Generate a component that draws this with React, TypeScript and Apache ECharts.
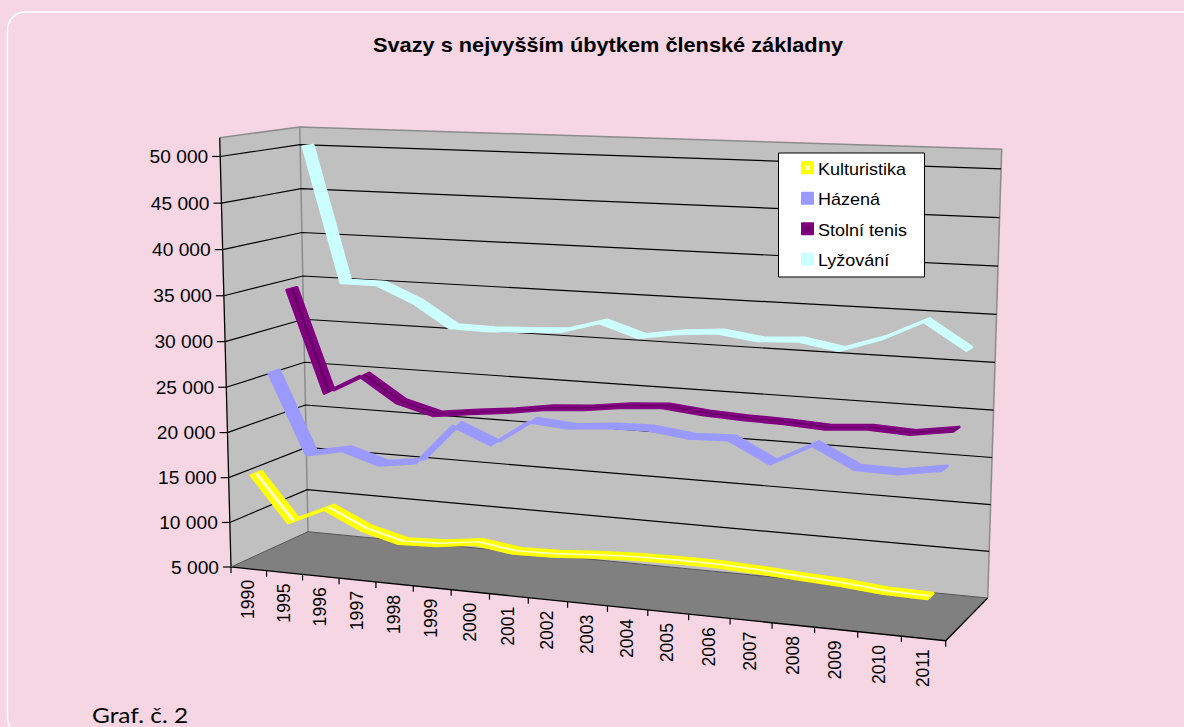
import React, { useEffect, useRef } from "react";
import * as echarts from "echarts";

const years = ["1990","1995","1996","1997","1998","1999","2000","2001","2002","2003","2004","2005","2006","2007","2008","2009","2010","2011"];
const kulturistika = [15200,10300,12150,10250,9180,9340,9890,9310,9400,9700,9900,9950,9950,9750,9500,9250,8850,8750];
const hazena = [25800,16980,17780,16500,17090,21480,19740,22540,22200,22560,22650,22120,22240,20060,22330,20200,20100,20820];
const stolniTenis = [34480,23110,25320,22650,21530,22050,22500,23140,23430,23980,24260,23810,23600,23480,23240,23550,23330,24010];
const lyzovani = [50080,34980,34970,33210,30640,30550,30730,30970,32190,30850,31520,31850,31280,31510,30780,32230,34330,31620];
const yTicks = [5000,10000,15000,20000,25000,30000,35000,40000,45000,50000];
const seriesNames = ["Kulturistika","Házená","Stolní tenis","Lyžování"];
const seriesValues = [kulturistika, hazena, stolniTenis, lyzovani];
const seriesColors = ["#FFFF00","#9999FF","#800080","#CCFFFF"];
const stripeColors = ["#FFFFC8",null,"#660066",null];
const title = "Svazy s nejvyšším úbytkem členské základny";
const caption = "Graf. č. 2";

const GL = 231, GW = 715, GT = 127, GH = 440;
const AXIS_MIN = 5000, AXIS_MAX = 52000;
const FONT = '"Liberation Sans", Arial, sans-serif';
const STRETCH = 1.09;

type P = [number, number];
function homography(q: P[]) {
  const [[x0,y0],[x1,y1],[x2,y2],[x3,y3]] = q;
  const dx1=x1-x2, dx2=x3-x2, sx=x0-x1+x2-x3;
  const dy1=y1-y2, dy2=y3-y2, sy=y0-y1+y2-y3;
  const den=dx1*dy2-dx2*dy1;
  const g=(sx*dy2-dx2*sy)/den, h=(dx1*sy-sx*dy1)/den;
  const a=x1-x0+g*x1, b=x3-x0+h*x3, c=x0;
  const d=y1-y0+g*y1, e=y3-y0+h*y3, f=y0;
  return (u:number,v:number):P=>{
    const t=g*u+h*v+1;
    return [(a*u+b*v+c)/t,(d*u+e*v+f)/t];
  };
}
const floorH = homography([[231,567],[945.7,640.7],[987.7,598],[308,531.7]]);
const VX = 577.6, VY = 13744;
const warpU=(u:number)=>0.9732*u/(1-0.0268*u);
const warpH=(h:number)=>0.9724*h/(1-0.0276*h);
function proj(u0:number,w:number,h0:number):P{
  const u=warpU(u0), h=warpH(h0);
  const f=floorH(u,w);
  const s=(-1.84e-7*f[0]+5.48e-5*f[1]+0.00155)*h;
  return [f[0]+(f[0]-VX)*s, f[1]+(f[1]-VY)*s];
}
const uOf=(X:number)=>(X-GL)/GW;
const hOf=(Y:number)=>(GT+GH-Y)/GH;
const RIBBON=0.066, STRIPE=0.018, EDGE=3;

function frameItem(_p:any, api:any){
  const kids:any[]=[];
  const poly=(points:P[],fill:string)=>({type:"polygon",shape:{points},style:{fill}});
  const line=(points:P[],stroke:string,lineWidth:number)=>({type:"polyline",shape:{points},style:{stroke,lineWidth,fill:"none"}});
  kids.push(poly([proj(0,0,0),proj(0,1,0),proj(0,1,1),proj(0,0,1)],"#C0C0C0"));
  kids.push(poly([proj(0,1,0),proj(1,1,0),proj(1,1,1),proj(0,1,1)],"#C0C0C0"));
  kids.push(poly([proj(0,0,0),proj(1,0,0),proj(1,1,0),proj(0,1,0)],"#808080"));
  kids.push(line([proj(0,0,1),proj(0,1,1),proj(1,1,1),proj(1,1,0)],"#8C8C8C",1.5));
  kids.push(line([proj(0,1,1),proj(0,1,0)],"#8C8C8C",1.5));
  yTicks.forEach((t)=>{
    const h=hOf(api.coord([years[0],t])[1]);
    if(t>AXIS_MIN) kids.push(line([proj(0,0,h),proj(0,1,h),proj(1,1,h)],"#000",1.2));
    const a=proj(0,0,h);
    kids.push(line([[a[0]-8,a[1]],a],"#000",1.2));
    kids.push({type:"text",x:a[0]-12,y:a[1]+0.5,scaleX:STRETCH,style:{text:String(t).replace(/(\d{3})$/," $1"),align:"right",verticalAlign:"middle",fill:"#000",font:`17.6px ${FONT}`}});
  });
  kids.push(line([proj(0,0,1),proj(0,0,0),proj(1,0,0),proj(1,1,0)],"#000",1.3));
  kids.push(line([proj(0,0,0),proj(0,1,0),proj(1,1,0)],"#555",1));
  for(let i=0;i<=years.length;i++){
    const a=proj(i/years.length,0,0);
    kids.push(line([a,[a[0],a[1]+6]],"#000",1.2));
  }
  years.forEach((y)=>{
    const a=proj(uOf(api.coord([y,AXIS_MIN])[0]),0,0);
    kids.push({type:"text",x:a[0]-1.5,y:a[1]+11,rotation:Math.PI/2,scaleY:STRETCH,style:{text:y,align:"right",verticalAlign:"middle",fill:"#000",font:`17.6px ${FONT}`}});
  });
  return {type:"group",children:kids};
}

function ribbon(k:number){
  const vals=seriesValues[k];
  const wc=(k+0.5)/4;
  return (p:any, api:any)=>{
    if(p.dataIndex!==0) return {type:"group",children:[]};
    const pts=vals.map((v,i)=>{
      const c=api.coord([years[i],v]);
      return {u:uOf(c[0]),h:hOf(c[1])};
    });
    const band=(d:number):P[]=>[
      ...pts.map((q)=>proj(q.u,wc+d,q.h)),
      ...pts.slice().reverse().map((q)=>proj(q.u,wc-d,q.h)),
    ];
    const kids:any[]=[{type:"polygon",shape:{points:band(RIBBON)},style:{fill:seriesColors[k],stroke:seriesColors[k],lineWidth:EDGE,lineJoin:"round"}}];
    if(stripeColors[k]) kids.push({type:"polygon",shape:{points:band(STRIPE)},style:{fill:stripeColors[k]}});
    return {type:"group",children:kids};
  };
}

export default function App(){
  const ref=useRef<HTMLDivElement>(null);
  useEffect(()=>{
    const chart=echarts.init(ref.current!,undefined,{renderer:"svg"});
    const legendKids:any[]=[{type:"rect",shape:{x:778.5,y:153,width:146,height:124},style:{fill:"#fff",stroke:"#000",lineWidth:1}}];
    seriesNames.forEach((n,i)=>{
      const y=167.7+i*30.5;
      legendKids.push({type:"rect",shape:{x:801,y:y-6.5,width:13,height:13,r:1},style:{fill:seriesColors[i]}});
      if(stripeColors[i]) legendKids.push({type:"rect",shape:{x:805,y:y-2.5,width:5,height:5},style:{fill:stripeColors[i]}});
      legendKids.push({type:"text",x:818,y:y+2,scaleX:1.11,style:{text:n,align:"left",verticalAlign:"middle",fill:"#000",font:`16.2px ${FONT}`}});
    });
    chart.setOption({
      animation:false,
      backgroundColor:"#F5D6E2",
      grid:{left:GL,top:GT,width:GW,height:GH},
      xAxis:{type:"category",data:years,show:false},
      yAxis:{type:"value",min:AXIS_MIN,max:AXIS_MAX,show:false,splitLine:{show:false}},
      graphic:[
        {type:"rect",z:1,shape:{x:7.5,y:12,width:1195,height:724,r:18},style:{fill:"none",stroke:"#fff",lineWidth:1.5}},
        {type:"text",z:1,x:608,y:45,scaleX:1.11,style:{text:title,align:"center",verticalAlign:"middle",fill:"#000",font:`bold 19.6px ${FONT}`}},
        {type:"text",z:1,x:92,y:714.5,scaleX:1.11,style:{text:caption,align:"left",verticalAlign:"middle",fill:"#000",font:'22px Lato, sans-serif'}},
        {type:"group",z:20,children:legendKids.map((e)=>({...e,z:20}))},
      ],
      series:[
        {type:"custom",name:"frame",coordinateSystem:"cartesian2d",silent:true,z:2,data:[[years[0],AXIS_MIN]],renderItem:frameItem,clip:false},
        ...[3,2,1,0].map((k,idx)=>({
          type:"custom",name:seriesNames[k],coordinateSystem:"cartesian2d",silent:true,z:3+idx,clip:false,
          data:seriesValues[k].map((v,i)=>[years[i],v]),renderItem:ribbon(k),
        })),
      ],
    });
    return ()=>chart.dispose();
  },[]);
  return <div ref={ref} style={{position:"fixed",left:0,top:0,width:1184,height:727}}/>;
}
